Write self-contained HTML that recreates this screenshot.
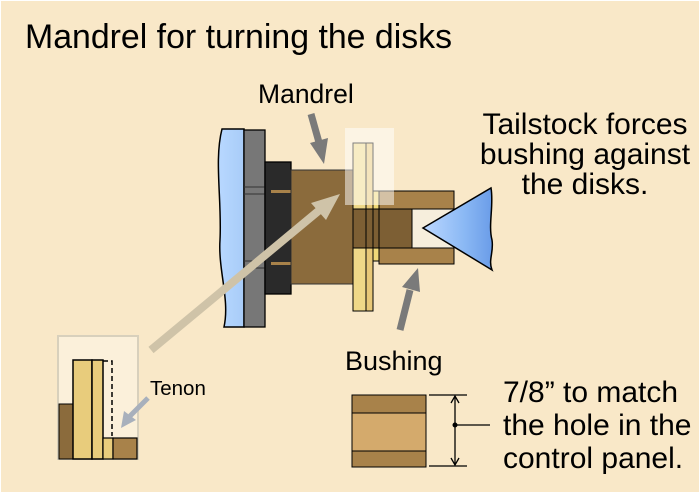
<!DOCTYPE html>
<html><head><meta charset="utf-8"><style>
html,body{margin:0;padding:0;background:#fff}
svg{display:block}
text{font-family:"Liberation Sans",sans-serif;fill:#000}
</style></head><body>
<svg width="700" height="493" viewBox="0 0 700 493" xmlns="http://www.w3.org/2000/svg">
<defs>
<linearGradient id="bl" x1="0" y1="0" x2="1" y2="0"><stop offset="0" stop-color="#b8d8ff"/><stop offset="1" stop-color="#a8ccf8"/></linearGradient>
<linearGradient id="tc" x1="0" y1="0" x2="1" y2="0"><stop offset="0" stop-color="#bcd8ff"/><stop offset="0.6" stop-color="#8ab8f4"/><stop offset="1" stop-color="#6a9ce8"/></linearGradient>
</defs>
<rect x="1" y="1" width="698" height="491" fill="#f9e8c8"/>
<text x="25" y="48" font-size="34" textLength="427" lengthAdjust="spacingAndGlyphs">Mandrel for turning the disks</text>
<text x="258" y="103" font-size="26.5">Mandrel</text>
<g font-size="30" text-anchor="middle">
<text x="585" y="134">Tailstock forces</text>
<text x="585" y="164">bushing against</text>
<text x="585" y="194">the disks.</text>
</g>
<text x="345" y="370" font-size="27">Bushing</text>
<g font-size="30">
<text x="503" y="402">7/8” to match</text>
<text x="503" y="435">the hole in the</text>
<text x="503" y="468">control panel.</text>
</g>
<path d="M222,129 L244,129 L244,327 L224,327 C230,300 218,270 220,240 C222,200 214,160 222,129 Z" fill="url(#bl)" stroke="#000" stroke-width="1.5"/>
<rect x="244" y="130" width="21" height="197" fill="#777" stroke="#000" stroke-width="1.3"/>
<line x1="244" y1="187" x2="265" y2="187" stroke="#333"/><line x1="244" y1="194" x2="265" y2="194" stroke="#333"/>
<line x1="244" y1="261" x2="265" y2="261" stroke="#333"/><line x1="244" y1="268" x2="265" y2="268" stroke="#333"/>
<rect x="265" y="162" width="26" height="132" fill="#2a2a2a" stroke="#000" stroke-width="1.3"/>
<rect x="271" y="190" width="20" height="3" fill="#a8824a"/><rect x="271" y="262" width="20" height="3" fill="#a8824a"/>
<rect x="291" y="170" width="63" height="114" fill="#8b6b3c" stroke="#333"/>
<rect x="379" y="191" width="75" height="18" fill="#a8824a" stroke="#000"/>
<rect x="379" y="248" width="75" height="16" fill="#a8824a" stroke="#000"/>
<rect x="412" y="209" width="42" height="39" fill="#f6eedc" stroke="#000"/>
<rect x="373" y="191" width="6" height="70" fill="#f0d878" stroke="#000"/>
<rect x="353" y="143" width="13" height="168" fill="#efd888" stroke="#000"/>
<rect x="366" y="143" width="7" height="168" fill="#e8c878" stroke="#000"/>
<rect x="353" y="209" width="59" height="39" fill="#7d5f34" stroke="#000"/>
<line x1="366" y1="209" x2="366" y2="248" stroke="#000"/><line x1="373" y1="209" x2="373" y2="248" stroke="#000"/><line x1="379" y1="209" x2="379" y2="248" stroke="#000"/>
<rect x="345" y="128" width="49" height="77" fill="#fff" opacity="0.5"/>
<path d="M423,228 L491,188 C494,205 488,225 492,240 C494,252 488,260 492,270 Z" fill="url(#tc)" stroke="#000" stroke-width="1.5"/>
<g fill="#7a7a7a" stroke="none">
<line x1="311" y1="114" x2="320" y2="146" stroke="#7a7a7a" stroke-width="7"/>
<polygon points="324,164 310,143 328,138"/>
<line x1="400" y1="330" x2="410" y2="290" stroke="#7a7a7a" stroke-width="7"/>
<polygon points="418,268 420,292 402,287"/>
</g>
<line x1="151" y1="350" x2="322" y2="208" stroke="#cfc3a8" stroke-width="8"/>
<polygon points="340,194 311,203 326,220" fill="#cfc3a8"/>
<rect x="58" y="336" width="80" height="123" fill="#fbf0da" stroke="#d8d0bc" stroke-width="2"/>
<rect x="59" y="404" width="14" height="55" fill="#8b6b3c" stroke="#000" stroke-width="1"/>
<rect x="73" y="360" width="19" height="99" fill="#e8cc7c" stroke="#000" stroke-width="1.5"/>
<rect x="92" y="360" width="11" height="99" fill="#e8cc7c" stroke="#000" stroke-width="1.5"/>
<rect x="103" y="438" width="10" height="21" fill="#e8cc7c" stroke="#000" stroke-width="1.2"/>
<rect x="113" y="438" width="24" height="21" fill="#a8824a" stroke="#000" stroke-width="1.2"/>
<polyline points="103,361 112,361 112,436" fill="none" stroke="#000" stroke-width="1.5" stroke-dasharray="5,3"/>
<text x="150" y="395" font-size="20.5">Tenon</text>
<line x1="148" y1="398" x2="130" y2="416" stroke="#a8b0bc" stroke-width="5"/>
<polygon points="121,428 124,411 136,420" fill="#a8b0bc"/>
<rect x="352" y="395" width="74" height="72" fill="#d4aa6c" stroke="#000"/>
<rect x="352" y="395" width="74" height="18" fill="#a8824a" stroke="#000"/>
<rect x="352" y="451" width="74" height="16" fill="#a8824a" stroke="#000"/>
<g stroke="#000" stroke-width="1.3" fill="none">
<line x1="429" y1="395" x2="467" y2="395"/><line x1="429" y1="466" x2="467" y2="466"/>
<line x1="455" y1="396" x2="455" y2="465"/>
<polyline points="451,403 455,396 459,403"/><polyline points="451,458 455,465 459,458"/>
<line x1="455" y1="425" x2="490" y2="425"/>
</g>
<circle cx="455" cy="425" r="2.5" fill="#000"/>
</svg>
</body></html>
